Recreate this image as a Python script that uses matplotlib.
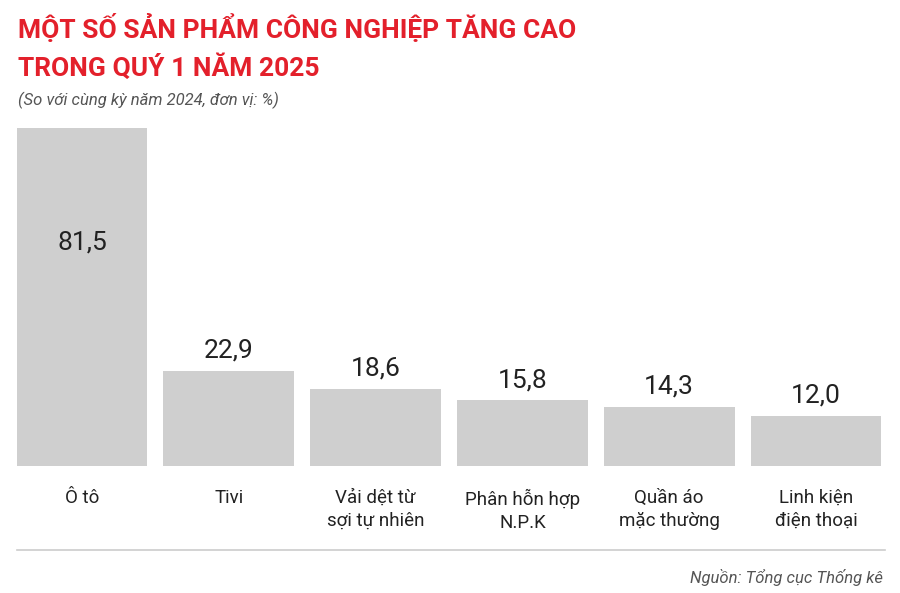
import matplotlib
matplotlib.use("Agg")
import matplotlib.pyplot as plt

plt.rcParams['font.family'] = ['Roboto', 'DejaVu Sans']

categories = ["Ô tô", "Tivi", "Vải dệt từ\nsợi tự nhiên", "Phân hỗn hợp\nN.P.K",
              "Quần áo\nmặc thường", "Linh kiện\nđiện thoại"]
values = [81.5, 22.9, 18.6, 15.8, 14.3, 12.0]

W, H = 900, 593
fig = plt.figure(figsize=(9, 5.93), dpi=100)
ax = fig.add_axes([8.5 / W, 1 - 466 / H, 881 / W, 338 / H])
x = list(range(len(values)))
ax.bar(x, values, width=0.89, color="#cfcfcf")
ax.set_xlim(-0.5, len(values) - 0.5)
ax.set_ylim(0, values[0])
ax.axis("off")

for i, v in enumerate(values):
    txt = f"{v:.1f}".replace(".", ",")
    if i == 0:
        ax.text(i, v * 0.66, txt, ha="center", va="center", fontsize=19, color="#222222")
    else:
        ax.text(i, v + 2.0, txt, ha="center", va="bottom", fontsize=19, color="#222222")
    ax.text(i, -5.5, categories[i], ha="center", va="top", fontsize=13.5,
            color="#222222", linespacing=1.35)

red = "#e3202b"
fig.text(18 / W, 1 - 28 / H, "MỘT SỐ SẢN PHẨM CÔNG NGHIỆP TĂNG CAO", color=red,
         fontsize=19, fontweight="bold", va="center", ha="left")
fig.text(18 / W, 1 - 68 / H, "TRONG QUÝ 1 NĂM 2025", color=red,
         fontsize=19, fontweight="bold", va="center", ha="left")
fig.text(18 / W, 1 - 100 / H, "(So với cùng kỳ năm 2024, đơn vị: %)", color="#555555",
         fontsize=12, style="italic", va="center", ha="left")

fig.add_artist(plt.Line2D([17 / W, 885 / W], [1 - 550 / H] * 2, color="#cccccc", lw=1.2))
fig.text(883 / W, 1 - 577 / H, "Nguồn: Tổng cục Thống kê", color="#555555",
         fontsize=12, style="italic", va="center", ha="right")

fig.savefig("out.png", dpi=100, facecolor="white")
